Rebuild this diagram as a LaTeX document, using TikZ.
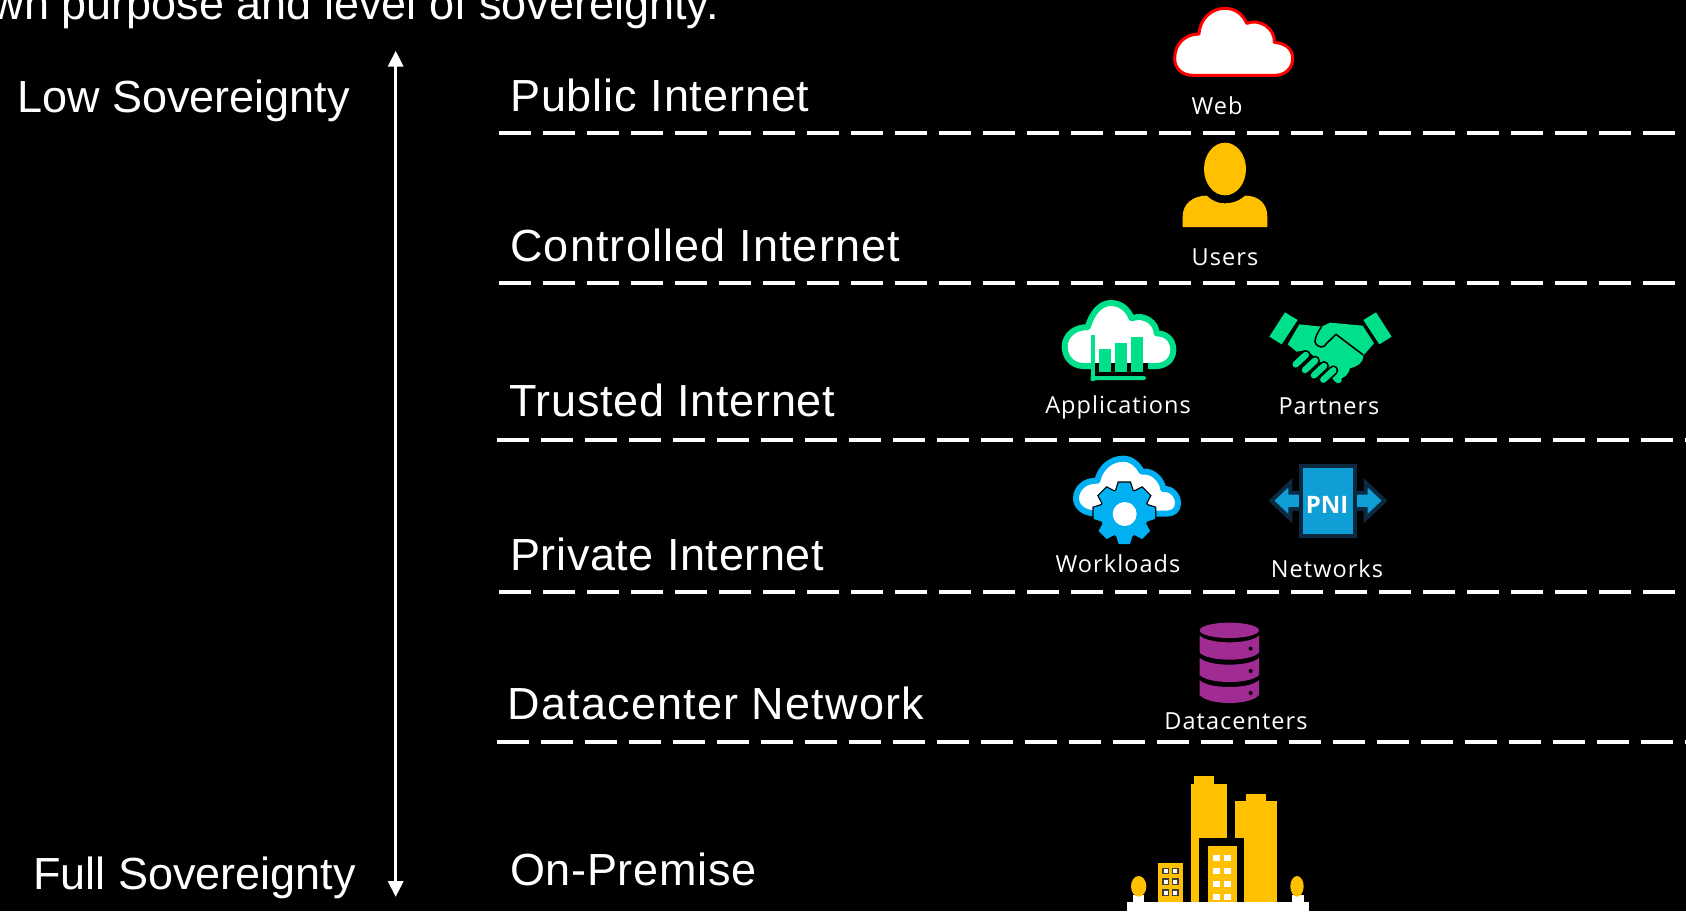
\documentclass[tikz,border=0pt]{standalone}
\usepackage{fontspec}
\setmainfont{Liberation Sans}
\newfontfamily\smallfont{Open Sans}[LetterSpace=4.5]
\newfontfamily\boldfont{Open Sans}
\usetikzlibrary{arrows.meta}
\definecolor{amber}{HTML}{FFC000}
\definecolor{mint}{HTML}{00DF8A}
\definecolor{sky}{HTML}{00B0F0}
\definecolor{pniblue}{HTML}{0F9ED5}
\definecolor{pninavy}{HTML}{0B2A42}
\definecolor{plum}{HTML}{A02B93}
\newcommand{\ls}[1]{\addfontfeature{LetterSpace=#1}}
\tikzset{
  bigtext/.style={text=white,anchor=base west,inner sep=0pt,font=\fontsize{45}{50}\selectfont},
  smalltext/.style={text=white,anchor=base,inner sep=0pt,font=\smallfont\fontsize{23.5}{28}\selectfont},
  tierline/.style={draw=white,line width=4pt,dash pattern=on 32pt off 12pt},
  axisline/.style={draw=white,line width=3.4pt,{Triangle[width=15pt,length=16pt]}-{Triangle[width=15pt,length=16pt]}},
  icon/.style 2 args={shift={(#1,#2)},x=.33333pt,y=-.33333pt}
}
\newcommand{\gearteeth}[1]{%
  \foreach \a in {0,45,...,315}{%
    \path[#1,rotate around={\a:(313,205)}] (296,113) -- (330,113) -- (340,145) -- (286,145) -- cycle;}%
  \path[#1] (313,205) circle[radius=72];}
\begin{document}
\begin{tikzpicture}[x=1pt,y=-1pt]
\useasboundingbox (0,0) rectangle (1686,911);
\fill[black] (0,0) rectangle (1686,911);
\clip (0,0) rectangle (1686,911);

% Texts
\node[text=white,anchor=base east,inner sep=0pt,font=\fontsize{45}{50}\selectfont] (intro) at (719,19) {wn purpose and level of sovereignty.};
\node[bigtext] (low) at (17,112.5) {Low Sovereignty};
\node[bigtext] (full) at (33,889) {Full Sovereignty};
\node[bigtext] (public) at (510,111) {\ls{2}Public Internet};
\node[bigtext] (controlled) at (510,261) {\ls{2.6}Controlled Internet};
\node[bigtext] (trusted) at (509,416) {\ls{1.6}Trusted Internet};
\node[bigtext] (private) at (510,570) {\ls{1.4}Private Internet};
\node[bigtext] (dc) at (507.5,719) {\ls{2.6}Datacenter Network};
\node[bigtext] (onprem) at (510,885) {\ls{1.5}On-Premise};

% Axis
\coordinate (axtop) at (395.7,50.7);
\coordinate (axbot) at (395.7,897);
\draw[axisline] (axbot) -- (axtop);

% Tier lines
\coordinate (l1a) at (499,133); \coordinate (l1b) at (1675,133);
\coordinate (l2a) at (499,283); \coordinate (l2b) at (1675,283);
\coordinate (l3a) at (497.3,440); \coordinate (l3b) at (1686,440);
\coordinate (l4a) at (499,591.7); \coordinate (l4b) at (1675,591.7);
\coordinate (l5a) at (497.3,741.7); \coordinate (l5b) at (1686,741.7);
\draw[tierline] (l1a) -- (l1b);
\draw[tierline] (l2a) -- (l2b);
\draw[tierline] (l3a) -- (l3b);
\draw[tierline] (l4a) -- (l4b);
\draw[tierline] (l5a) -- (l5b);

% Web cloud
\begin{scope}[icon={1000}{0}]
\draw[red,fill=white,line width=3pt,line join=round]
 (580,226) .. controls (545,226) and (524,205) .. (524,175)
 .. controls (524,132) and (555,102) .. (597,102)
 .. controls (600,55) and (635,25) .. (675,25)
 .. controls (705,25) and (728,42) .. (740,70)
 .. controls (780,55) and (825,85) .. (823,127)
 .. controls (860,130) and (878,150) .. (878,175)
 .. controls (878,205) and (855,226) .. (825,226) -- cycle;
% User
\fill[amber] (675,507) circle[x radius=63,y radius=79];
\fill[amber] (548,681) -- (548,650) .. controls (548,610) and (580,587) .. (620,587)
 .. controls (640,605) and (655,610) .. (675,610) .. controls (695,610) and (715,605) .. (735,587)
 .. controls (775,587) and (802,610) .. (802,650) -- (802,681) -- cycle;
\end{scope}

% Applications + Partners
\begin{scope}[icon={1020}{285}]
\draw[mint,fill=white,line width=6pt,line join=round]
 (190,243) .. controls (155,243) and (134,215) .. (134,185)
 .. controls (134,150) and (165,125) .. (203,127)
 .. controls (215,85) and (240,54) .. (272,54)
 .. controls (305,54) and (325,75) .. (335,100)
 .. controls (375,85) and (410,115) .. (410,145)
 .. controls (440,145) and (460,165) .. (460,195)
 .. controls (460,225) and (435,243) .. (410,243) -- cycle;
\fill[black] (225,234) rectangle (385,275);
\fill[mint] (212,150) rectangle (224,287);
\fill[mint] (212,273) -- (372,273) arc[start angle=-90,end angle=90,radius=6] -- (212,285) -- cycle;
\fill[white] (224,150) rectangle (237,234);
\fill[mint] (237,192) rectangle (272,262);
\fill[mint] (285,173) rectangle (322,262);
\fill[mint] (333,156) rectangle (370,262);
% handshake
\fill[mint] (795,82) -- (833,105) -- (785,178) -- (748,155) -- cycle;
\fill[mint] (1068,82) -- (1030,105) -- (1078,178) -- (1115,155) -- cycle;
\fill[mint] (803,178) -- (838,118) -- (905,125) -- (930,113) -- (1028,122) -- (1062,175) -- (1030,212)
 .. controls (1030,235) and (1010,245) .. (990,250)
 .. controls (985,270) and (975,275) .. (965,280) .. controls (968,292) and (955,300) .. (945,290) -- (900,230) -- (860,195) -- (830,200) -- cycle;
\foreach \fx/\fy in {843/226,871/243,898/259,926/272}{
  \draw[black,line width=10pt,line cap=round] ({\fx-16},{\fy+12}) -- ({\fx+14},{\fy-16});
  \draw[mint,line width=6.5pt,line cap=round] ({\fx-16},{\fy+12}) -- ({\fx+14},{\fy-16});}
\draw[black,line width=1.6pt,line join=round] (905,125) .. controls (895,140) and (885,155) .. (885,170)
 .. controls (890,190) and (915,190) .. (920,175) -- (948,148) -- (1030,210);
\fill[mint] (907,127) .. controls (897,142) and (889,155) .. (889,170) .. controls (893,185) and (912,185) .. (917,172) -- (948,143) -- (1030,205) -- (1058,175) -- (1026,125) -- (930,116) -- cycle;
\end{scope}

% Workloads + PNI
\begin{scope}[icon={1020}{445}]
\draw[sky,fill=white,line width=6pt,line join=round]
 (230,206) .. controls (190,205) and (168,185) .. (168,160)
 .. controls (168,130) and (195,105) .. (232,107)
 .. controls (240,70) and (270,41) .. (310,41)
 .. controls (335,41) and (355,60) .. (365,80)
 .. controls (395,75) and (425,100) .. (430,132)
 .. controls (455,130) and (474,150) .. (474,175)
 .. controls (474,195) and (460,206) .. (440,206) -- cycle;
\gearteeth{draw=black,fill=black,line width=2.5pt}
\gearteeth{fill=sky}
\fill[white] (314,207) circle[radius=36];
% PNI
\draw[pninavy,fill=pniblue,line width=4pt,line join=miter]
 (754,167) -- (811,113) -- (811,143) -- (1037,143) -- (1037,113) -- (1094,167) -- (1037,221) -- (1037,192) -- (811,192) -- (811,221) -- cycle;
\draw[pninavy,fill=pniblue,line width=4pt] (842,62) rectangle (1006,274);
\end{scope}
\node[text=white,inner sep=0pt,font=\boldfont\bfseries\fontsize{24}{28}\selectfont] (pni) at (1327,505) {PNI};

% Database + city
\begin{scope}[icon={1100}{610}]
\fill[plum] (388,61) circle[x radius=89,y radius=23];
\fill[plum] (299,76) .. controls (325,104) and (451,104) .. (477,76) -- (477,128) .. controls (451,156) and (325,156) .. (299,128) -- cycle;
\fill[plum] (299,143) .. controls (325,171) and (451,171) .. (477,143) -- (477,195) .. controls (451,223) and (325,223) .. (299,195) -- cycle;
\fill[plum] (299,210) .. controls (325,238) and (451,238) .. (477,210) -- (477,255) .. controls (451,287) and (325,287) .. (299,255) -- cycle;
\foreach \dy in {116,183,249}{\fill[black] (452,\dy) circle[radius=6];}
% city
\fill[amber] (282,498) rectangle (342,522);
\fill[amber] (272,522) rectangle (381,875);
\fill[amber] (438,552) rectangle (498,574);
\fill[amber] (404,574) rectangle (530,875);
\fill[black] (297,685) rectangle (431,875);
\fill[amber] (323,707) rectangle (410,875);
\foreach \wy in {734,773,813,852}{
  \fill[white] (340,\wy) rectangle (360,{\wy+19});
  \fill[white] (372,\wy) rectangle (392,{\wy+19});}
\fill[amber] (174,759) rectangle (248,875);
\foreach \wy in {775,807,840}{
  \draw[black!75,fill=white,line width=1.2pt] (189,\wy) rectangle (206,{\wy+16});
  \draw[black!75,fill=white,line width=1.2pt] (217,\wy) rectangle (234,{\wy+16});}
\fill[white] (99,855) rectangle (133,875);
\fill[white] (577,855) rectangle (611,875);
\fill[white] (82,875) rectangle (628,911);
\fill[amber] (116,829) circle[x radius=23,y radius=31];
\fill[amber] (591,829) circle[x radius=20,y radius=31];
\end{scope}

% Icon labels
\node[smalltext] (web) at (1217,114) {Web};
\node[smalltext] (users) at (1225,265) {Users};
\node[smalltext] (apps) at (1118,413) {Applications};
\node[smalltext] (partners) at (1329,414) {Partners};
\node[smalltext] (workloads) at (1118,572) {Workloads};
\node[smalltext] (networks) at (1327,577) {Networks};
\node[smalltext] (dcs) at (1236,729) {Datacenters};
\end{tikzpicture}
\end{document}
